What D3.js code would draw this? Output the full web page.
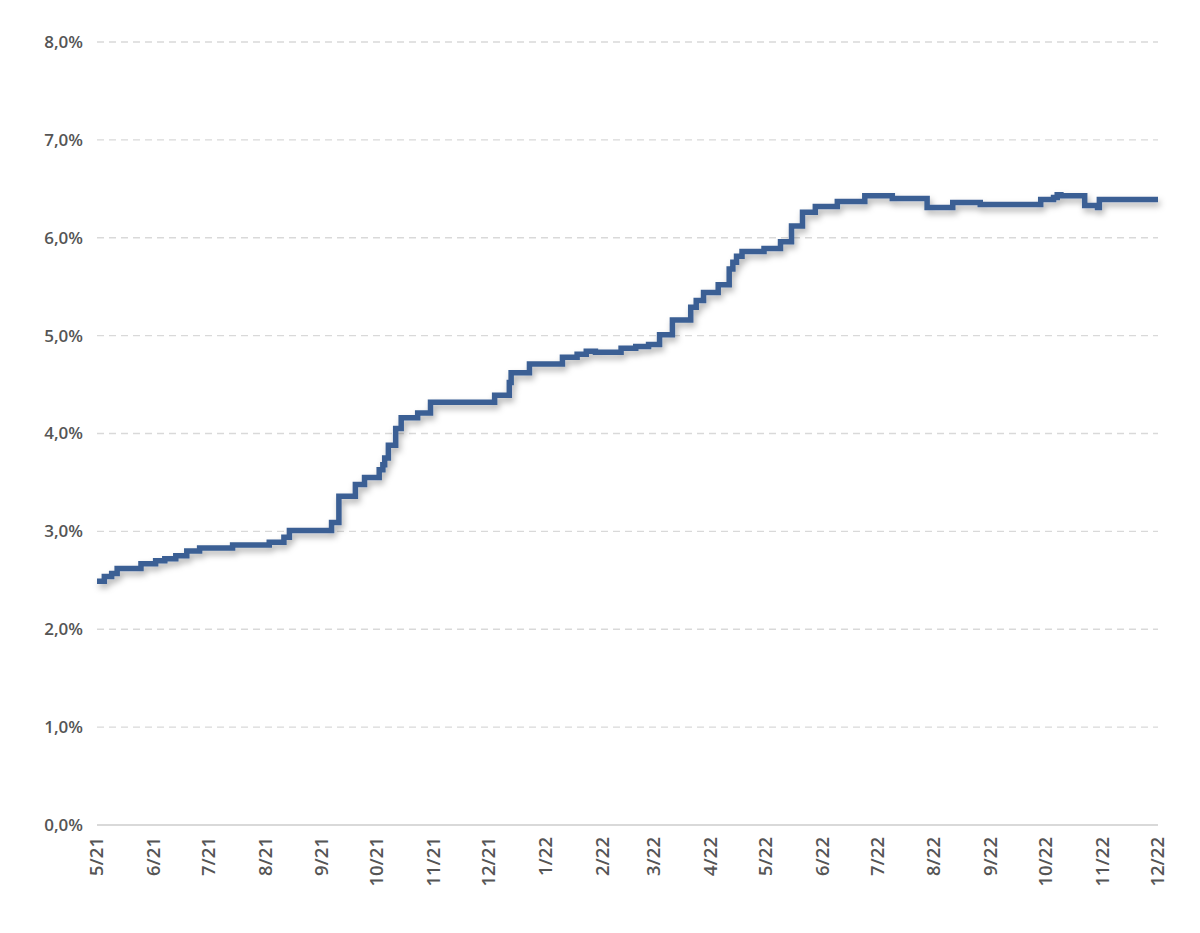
<!DOCTYPE html>
<html>
<head>
<meta charset="utf-8">
<script src="https://cdn.jsdelivr.net/npm/d3@7"></script>
<style>
  body { margin: 0; background: #fff; }
  .tick text { font-family: "Open Sans", "Liberation Sans", Arial, sans-serif; font-weight: 600; fill: #555; }
</style>
</head>
<body>
<div class="svg-container"></div>
<script>
// step dates (change points) and values in %
const stepDates = [
  "2021-05-01", "2021-05-05", "2021-05-09", "2021-05-12", "2021-05-25",
  "2021-06-02", "2021-06-07", "2021-06-13", "2021-06-19", "2021-06-26",
  "2021-07-14", "2021-08-03", "2021-08-11", "2021-08-14", "2021-09-06",
  "2021-09-10", "2021-09-19", "2021-09-24", "2021-10-02", "2021-10-04",
  "2021-10-05", "2021-10-07", "2021-10-11", "2021-10-14", "2021-10-23",
  "2021-10-30", "2021-12-04", "2021-12-12", "2021-12-13", "2021-12-23",
  "2022-01-10", "2022-01-18", "2022-01-23", "2022-01-28", "2022-02-11",
  "2022-02-19", "2022-02-26", "2022-03-04", "2022-03-11", "2022-03-21",
  "2022-03-24", "2022-03-28", "2022-04-05", "2022-04-11", "2022-04-13",
  "2022-04-15", "2022-04-18", "2022-04-30", "2022-05-09", "2022-05-15",
  "2022-05-21", "2022-05-28", "2022-06-09", "2022-06-24", "2022-07-09",
  "2022-07-28", "2022-08-11", "2022-08-26", "2022-09-28", "2022-10-05",
  "2022-10-07", "2022-10-09", "2022-10-22", "2022-10-29", "2022-10-30",
  "2022-12-01"
];
const stepValues = [
  2.49, 2.54, 2.57, 2.62, 2.67,
  2.70, 2.72, 2.75, 2.80, 2.83,
  2.86, 2.89, 2.94, 3.01, 3.09,
  3.36, 3.48, 3.55, 3.63, 3.68,
  3.75, 3.88, 4.05, 4.16, 4.21,
  4.32, 4.39, 4.52, 4.62, 4.71,
  4.78, 4.81, 4.84, 4.83, 4.87,
  4.89, 4.91, 5.01, 5.16, 5.29,
  5.36, 5.44, 5.52, 5.68, 5.75,
  5.81, 5.86, 5.89, 5.96, 6.12,
  6.26, 6.32, 6.37, 6.43, 6.40,
  6.31, 6.36, 6.34, 6.39, 6.41,
  6.44, 6.43, 6.33, 6.31, 6.39,
  6.39
];
const yTicks = [0, 1, 2, 3, 4, 5, 6, 7, 8];
const xTickMonths = [
  "2021-05-01", "2021-06-01", "2021-07-01", "2021-08-01", "2021-09-01",
  "2021-10-01", "2021-11-01", "2021-12-01", "2022-01-01", "2022-02-01",
  "2022-03-01", "2022-04-01", "2022-05-01", "2022-06-01", "2022-07-01",
  "2022-08-01", "2022-09-01", "2022-10-01", "2022-11-01", "2022-12-01"
];

const W = 1200, H = 933;
const margin = { top: 42, right: 42, bottom: 108, left: 97 };
const width = W - margin.left - margin.right,
  height = H - margin.top - margin.bottom;

const parse = d3.timeParse("%Y-%m-%d");
const data = stepDates.map((d, i) => [parse(d), stepValues[i]]);
const ticks = xTickMonths.map(parse);

const xScale = d3.scaleTime()
  .domain([ticks[0], ticks[ticks.length - 1]])
  .range([0, width]);

const yScale = d3.scaleLinear()
  .domain([0, 8])
  .range([height, 0]);

const svg = d3.select(".svg-container")
  .append("svg")
  .attr("width", W)
  .attr("height", H);

const defs = svg.append("defs");
const filter = defs.append("filter")
  .attr("id", "shadow")
  .attr("x", "-5%").attr("y", "-20%")
  .attr("width", "110%").attr("height", "140%");
filter.append("feDropShadow")
  .attr("dx", 2).attr("dy", 4)
  .attr("stdDeviation", 3)
  .attr("flood-color", "#000")
  .attr("flood-opacity", 0.3);

const g = svg.append("g")
  .attr("transform", "translate(" + margin.left + "," + margin.top + ")");

// gridlines
g.selectAll(".grid")
  .data(yTicks)
  .enter()
  .append("line")
  .attr("class", "grid")
  .attr("x1", 0)
  .attr("x2", width)
  .attr("y1", d => yScale(d))
  .attr("y2", d => yScale(d))
  .style("stroke", "#d9d9d9")
  .style("stroke-width", d => d === 0 ? 2 : 1.3)
  .style("stroke-dasharray", d => d === 0 ? null : "7,5");

// Y-AXIS
const yAxis = d3.axisLeft(yScale)
  .tickValues(yTicks)
  .tickSize(0)
  .tickPadding(14)
  .tickFormat(d => d3.format(".1f")(d).replace(".", ",") + "%");

g.append("g")
  .attr("id", "y-axis")
  .call(yAxis)
  .call(s => s.select(".domain").remove())
  .selectAll("text")
  .style("font-size", "17px");

// X-AXIS
const xAxis = d3.axisBottom(xScale)
  .tickValues(ticks)
  .tickSize(0)
  .tickFormat(d3.timeFormat("%-m/%y"));

g.append("g")
  .attr("id", "x-axis")
  .attr("transform", "translate(0," + height + ")")
  .call(xAxis)
  .call(s => s.select(".domain").remove())
  .selectAll("text")
  .style("font-size", "18.5px")
  .attr("text-anchor", "end")
  .attr("transform", "rotate(-90)")
  .attr("x", -12)
  .attr("y", -1)
  .attr("dy", "0.35em");

// line
const line = d3.line()
  .x(d => xScale(d[0]))
  .y(d => yScale(d[1]))
  .curve(d3.curveStepAfter);

g.append("path")
  .datum(data)
  .attr("d", line)
  .attr("fill", "none")
  .attr("stroke", "#3a5f94")
  .attr("stroke-width", 5.5)
  .attr("stroke-linejoin", "miter")
  .attr("filter", "url(#shadow)");
</script>
</body>
</html>
